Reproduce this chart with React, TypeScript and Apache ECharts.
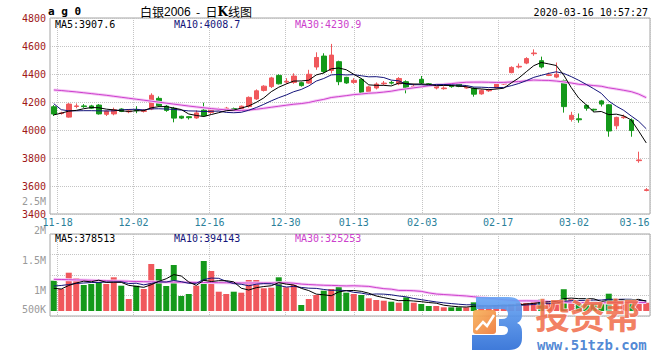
import React, { useEffect, useRef } from 'react';
import * as echarts from 'echarts';

// ---------- data ----------
const dates = [
  '11-15', '11-18', '11-19', '11-20', '11-21', '11-22', '11-25', '11-26', '11-27', '11-28', '11-29',
  '12-02', '12-03', '12-04', '12-05', '12-06', '12-09', '12-10', '12-11', '12-12', '12-13',
  '12-16', '12-17', '12-18', '12-19', '12-20', '12-23', '12-24', '12-25', '12-26', '12-27', '12-30', '12-31',
  '01-02', '01-03', '01-06', '01-07', '01-08', '01-09', '01-10', '01-13', '01-14', '01-15', '01-16', '01-17',
  '01-20', '01-21', '01-22', '01-23',
  '02-03', '02-04', '02-05', '02-06', '02-07', '02-10', '02-11', '02-12', '02-13', '02-14',
  '02-17', '02-18', '02-19', '02-20', '02-21', '02-24', '02-25', '02-26', '02-27', '02-28',
  '03-02', '03-03', '03-04', '03-05', '03-06', '03-09', '03-10', '03-11', '03-12', '03-13', '03-16',
];

const opens = [
  4166, 4118, 4092, 4168, 4172, 4172, 4178, 4112, 4115, 4150,
  4130, 4145, 4133, 4150, 4226, 4170, 4155, 4098, 4095, 4086,
  4142, 4125, 4145, 4150, 4152, 4138, 4168, 4222, 4283, 4310,
  4390, 4342, 4340, 4338, 4335, 4450, 4528, 4425, 4488, 4376,
  4340, 4362, 4275, 4300, 4330, 4340, 4330, 4345, 4305, 4362,
  4330, 4300, 4295, 4316, 4334, 4300, 4298, 4258, 4280, 4300,
  4328, 4410, 4450, 4478, 4545, 4495, 4390, 4378, 4352, 4076,
  4080, 4176, 4148, 4208, 4180, 4030, 4088, 4071, 3781, 3568,
];
const closes = [
  4114, 4122, 4185, 4172, 4167, 4156, 4115, 4135, 4145, 4133,
  4136, 4138, 4138, 4248, 4173, 4140, 4085, 4085, 4088, 4122,
  4102, 4155, 4152, 4156, 4148, 4170, 4233, 4280, 4313, 4372,
  4330, 4348, 4385, 4317, 4398, 4518, 4418, 4535, 4345, 4336,
  4355, 4268, 4308, 4328, 4335, 4335, 4368, 4292, 4312, 4335,
  4324, 4320, 4300, 4310, 4312, 4305, 4256, 4283, 4285, 4333,
  4335, 4447, 4455, 4510, 4550, 4450, 4395, 4398, 4167, 4105,
  4073, 4155, 4143, 4185, 3993, 4090, 4093, 3996, 3786, 3573,
];
const lows = [
  4100, 4110, 4088, 4155, 4158, 4150, 4110, 4100, 4105, 4128,
  4120, 4120, 4125, 4142, 4165, 4130, 4055, 4078, 4075, 4080,
  4095, 4115, 4135, 4140, 4140, 4130, 4160, 4215, 4275, 4300,
  4325, 4330, 4330, 4310, 4330, 4430, 4405, 4405, 4320, 4330,
  4330, 4250, 4265, 4290, 4320, 4325, 4320, 4262, 4295, 4328,
  4315, 4290, 4288, 4302, 4306, 4295, 4238, 4252, 4272, 4295,
  4322, 4405, 4440, 4470, 4530, 4440, 4385, 4370, 4124, 4060,
  4052, 4138, 4130, 4168, 3952, 4005, 4080, 3952, 3766, 3562,
];
const highs = [
  4178, 4130, 4192, 4190, 4185, 4180, 4185, 4140, 4160, 4155,
  4150, 4170, 4150, 4262, 4240, 4178, 4165, 4102, 4100, 4140,
  4195, 4162, 4160, 4165, 4160, 4175, 4240, 4290, 4320, 4380,
  4398, 4370, 4405, 4345, 4430, 4555, 4548, 4615, 4495, 4380,
  4370, 4370, 4315, 4340, 4350, 4350, 4378, 4355, 4330, 4386,
  4335, 4328, 4312, 4325, 4338, 4315, 4305, 4290, 4295, 4340,
  4350, 4455, 4475, 4520, 4576, 4524, 4410, 4482, 4360, 4130,
  4118, 4182, 4152, 4215, 4185, 4095, 4110, 4083, 3845, 3585,
];
const volumes = [
  1166000, 847000, 1474500, 1259000, 1001000, 1039500, 1166000, 1039500, 1297500, 974000,
  462000, 974000, 847000, 1809500, 1617000, 962500, 1771000, 577500, 654500, 974000,
  1925000, 1540000, 743000, 654500, 743000, 704500, 1193500, 1193500, 874000, 897000,
  1297500, 912500, 1028000, 231000, 462000, 616000, 781500, 847000, 962500, 704500,
  654500, 616000, 489000, 423500, 396500, 358000, 319500, 527500, 319500, 269500,
  192500, 192500, 142500, 142500, 142500, 142500, 333660, 192500, 154000, 231000,
  231000, 269500, 308000, 308000, 346500, 443500, 346500, 405000, 838500, 453500,
  330000, 350000, 372000, 331000, 665865, 381000, 402000, 384000, 408000, 317565,
];

// moving-average values before enough in-chart history exists
const ma5Lead = [4108, 4120, 4135, 4140];
const ma10Lead = [4188, 4145, 4137, 4137, 4138, 4138, 4137, 4136, 4137];
const ma30Lead = [
  4286, 4282, 4277, 4272, 4266, 4260, 4254, 4248, 4241, 4234,
  4227, 4220, 4213, 4206, 4199, 4192, 4185, 4178, 4171, 4165,
  4159, 4153, 4148, 4144, 4141, 4140, 4142, 4148, 4155,
];
const vma5Lead = [874000, 847000, 982000, 1078000];
const vma10Lead = [962500, 982000, 1020000, 1059000, 1078000, 1097000, 1097000, 1116500, 1116500];
const vma30Lead = [
  1220000, 1213000, 1205000, 1197000, 1190000, 1182000, 1174000, 1166000, 1159000, 1151000,
  1143000, 1136000, 1128000, 1124000, 1120000, 1116500, 1113000, 1109000, 1105000, 1101000,
  1097000, 1093000, 1090000, 1086000, 1082000, 1078000, 1078000, 1078000, 1078000,
];

const xTickDates = ['11-18', '12-02', '12-16', '12-30', '01-13', '02-03', '02-17', '03-02', '03-16'];
const priceMin = 3400;
const priceMax = 4800;
const priceStep = 200;
const volTickLabels = ['2.5M', '2M', '1.5M', '1M', '500K'];

const titleCode = 'a g 0';
const titleName = '白银';
const titleContract = '2006';
const titleKind = ['  -  日', 'K', '线图'];
const timestamp = '2020-03-16 10:57:27';
const watermarkName = '投资帮';
const watermarkUrl = 'www.51tzb.com';

// ---------- layout / style ----------
const RED = '#f0585c';
const GREEN = '#14991a';
const NAVY = '#14147a';
const MAGENTA = '#cc3fcc';
const HALO = '#f6ccf6';
const TEAL = '#2a7f9a';
const YRED = '#a01818';
const GRID_LINE = '#c4c4c4';
const MONO = '"DejaVu Sans Mono", monospace';
const volLabelY = [201.7, 230, 260.7, 290.7, 309.3];

const logoPath =
  'M4 0 H36 Q50 0 50 13 V18 Q50 24 45 26 Q50 28 50 35 V41 Q50 53 37 53 H0 V38 H30 Q36 38 36 33 Q36 29 30 29 H27 V22 H30 Q36 22 36 17 Q36 12 30 12 H4 Z';
echarts.graphic.registerShape('wmLogo', echarts.graphic.extendPath(logoPath, {}));

function movingAvg(vals: number[], n: number, lead: number[]) {
  return vals.map((_, i) => {
    if (i < n - 1) return lead[i];
    let s = 0;
    for (let k = i - n + 1; k <= i; k++) s += vals[k];
    return s / n;
  });
}

function buildOption() {
  const ma5 = movingAvg(closes, 5, ma5Lead);
  const ma10 = movingAvg(closes, 10, ma10Lead);
  const ma30 = movingAvg(closes, 30, ma30Lead);
  const vma5 = movingAvg(volumes, 5, vma5Lead);
  const vma10 = movingAvg(volumes, 10, vma10Lead);
  const vma30 = movingAvg(volumes, 30, vma30Lead);
  const last = dates.length - 1;
  const tickSet = new Set(xTickDates);
  const lastTick = xTickDates[xTickDates.length - 1];

  const ohlc = dates.map((_, i) => [opens[i], closes[i], lows[i], highs[i]]);
  const volData = volumes.map((v, i) => ({
    value: v,
    itemStyle: { color: closes[i] >= opens[i] ? RED : GREEN },
  }));

  const line = (data: number[], color: string, xi: number, yi: number, width = 1, z = 3) => ({
    type: 'line',
    data,
    xAxisIndex: xi,
    yAxisIndex: yi,
    symbol: 'none',
    showSymbol: false,
    silent: true,
    z,
    lineStyle: { color, width },
  });

  const txt = (x: number, y: number, text: string, fill: string, font: string, align = 'left', extra: any = {}, z = 10) => ({
    type: 'text',
    x,
    y,
    z,
    silent: true,
    style: {
      text,
      fill,
      font,
      align,
      textAlign: align,
      verticalAlign: 'middle',
      textVerticalAlign: 'middle',
      ...extra,
    },
  });

  const f10 = `10px ${MONO}`;

  const graphic: any[] = [
    {
      type: 'text',
      x: 140,
      y: 11.5,
      z: 10,
      silent: true,
      style: {
        text: `{c|${titleName}}{d|${titleContract}}{c|${titleKind[0]}}{k|${titleKind[1]}}{c|${titleKind[2]}}`,
        verticalAlign: 'middle',
        textVerticalAlign: 'middle',
        rich: {
          c: { fontSize: 12, lineHeight: 12, fontFamily: '"Noto Sans CJK SC"', color: '#000' },
          d: { fontSize: 12, lineHeight: 12, fontFamily: '"Liberation Sans Narrow", "Liberation Sans"', color: '#555' },
          k: { fontSize: 12, lineHeight: 12, fontWeight: 'bold', fontFamily: '"DejaVu Serif"', color: '#000' },
        },
      },
    },
    txt(648, 12.5, timestamp, '#000', f10, 'right'),
    txt(55, 24, `MA5:${ma5[last].toFixed(1)}`, '#000', f10),
    txt(174, 24, `MA10:${ma10[last].toFixed(1)}`, NAVY, f10),
    txt(295, 24, `MA30:${ma30[last].toFixed(1)}`, MAGENTA, f10),
    txt(55, 238.5, `MA5:${Math.round(vma5[last])}`, '#000', f10),
    txt(174, 238.5, `MA10:${Math.round(vma10[last])}`, NAVY, f10),
    txt(295, 238.5, `MA30:${Math.round(vma30[last])}`, MAGENTA, f10),
    ...volTickLabels.map((t, i) => txt(46, volLabelY[i], t, '#9a9a9a', f10, 'right')),
    // watermark
    {
      type: 'wmLogo',
      x: 472,
      y: 297,
      z: 20,
      silent: true,
      style: {
        fill: new echarts.graphic.LinearGradient(0, 0, 0, 1, [
          { offset: 0, color: '#6aa6f4' },
          { offset: 1, color: '#2f6fd6' },
        ]),
        opacity: 0.92,
      },
    },
    {
      type: 'rect',
      z: 20,
      silent: true,
      shape: { x: 473, y: 310, width: 23, height: 24, r: 3 },
      style: {
        fill: new echarts.graphic.LinearGradient(0, 0, 1, 1, [
          { offset: 0, color: '#f7b35c' },
          { offset: 1, color: '#ef7a3a' },
        ]),
        opacity: 0.92,
      },
    },
    {
      type: 'polyline',
      z: 21,
      silent: true,
      shape: { points: [[476, 330], [483, 322], [487, 326], [494, 315]] },
      style: { stroke: '#fff', lineWidth: 2.5, fill: 'none' },
    },
    txt(535, 313, watermarkName, '#f06a48', `bold 35px "Noto Sans CJK SC"`, 'left', { opacity: 0.85, stroke: '#fff', lineWidth: 1, lineHeight: 34 }, 20),
    txt(537, 345, watermarkUrl, '#3c7ad0', `bold 14px ${MONO}`, 'left', { opacity: 0.9, lineHeight: 13 }, 20),
  ];

  return {
    animation: false,
    backgroundColor: '#fff',
    title: {
      text: titleCode,
      left: 48,
      top: 4,
      padding: 0,
      textStyle: { fontSize: 11, lineHeight: 14, fontWeight: 'bold', fontFamily: 'DejaVu Sans Mono', color: '#000' },
    },
    grid: [
      { left: 50, top: 18, width: 600, height: 196, show: true, borderColor: '#a4a4a4', borderWidth: 1 },
      { left: 50, top: 234, width: 600, height: 82, show: true, borderColor: '#a4a4a4', borderWidth: 1 },
    ],
    xAxis: [
      { type: 'category', gridIndex: 0, data: dates, boundaryGap: true, show: false, position: 'top' },
      {
        type: 'category',
        gridIndex: 0,
        data: dates,
        boundaryGap: false,
        position: 'bottom',
        axisLine: { show: false },
        axisTick: { show: false },
        axisLabel: {
          interval: (_i: number, v: string) => tickSet.has(v),
          color: TEAL,
          fontSize: 10,
          fontFamily: MONO,
          margin: 3,
          formatter: (v: string) => (v === lastTick ? `{r|${v}}` : v),
          rich: { r: { color: TEAL, fontSize: 10, fontFamily: MONO, padding: [0, 31, 0, 0] } },
        },
        splitLine: {
          show: true,
          interval: (_i: number, v: string) => tickSet.has(v),
          lineStyle: { color: GRID_LINE, type: 'dotted', width: 1 },
        },
      },
      { type: 'category', gridIndex: 1, data: dates, boundaryGap: true, show: false, position: 'top' },
      {
        type: 'category',
        gridIndex: 1,
        data: dates,
        boundaryGap: false,
        position: 'bottom',
        axisLine: { show: false },
        axisTick: { show: false },
        axisLabel: { show: false },
        splitLine: {
          show: true,
          interval: (_i: number, v: string) => tickSet.has(v),
          lineStyle: { color: GRID_LINE, type: 'dotted', width: 1 },
        },
      },
    ],
    yAxis: [
      {
        type: 'value',
        gridIndex: 0,
        min: priceMin,
        max: priceMax,
        interval: priceStep,
        position: 'left',
        axisLine: { show: false },
        axisTick: { show: false },
        axisLabel: { color: YRED, fontSize: 10, fontFamily: MONO, margin: 4, formatter: (v: number) => String(v) },
        splitLine: { show: true, lineStyle: { color: GRID_LINE, type: 'dotted', width: 1 } },
      },
      { type: 'value', gridIndex: 1, min: -192500, max: 2964500, show: false, position: 'left' },
      {
        type: 'value',
        gridIndex: 1,
        min: 0,
        max: 4,
        interval: 1,
        position: 'right',
        axisLine: { show: false },
        axisTick: { show: false },
        axisLabel: { show: false },
        splitLine: { show: true, lineStyle: { color: GRID_LINE, type: 'dotted', width: 1 } },
      },
    ],
    series: [
      {
        type: 'candlestick',
        xAxisIndex: 0,
        yAxisIndex: 0,
        barWidth: 5,
        data: ohlc,
        silent: true,
        z: 2,
        itemStyle: { color: RED, color0: GREEN, borderColor: RED, borderColor0: GREEN, borderWidth: 1 },
      },
      line(ma30, HALO, 0, 0, 3, 3),
      line(ma30, MAGENTA, 0, 0, 1, 4),
      line(ma10, NAVY, 0, 0, 1, 4),
      line(ma5, '#000', 0, 0, 1, 4),
      {
        type: 'bar',
        xAxisIndex: 2,
        yAxisIndex: 1,
        barWidth: 6,
        data: volData,
        silent: true,
        z: 2,
      },
      line(vma30, HALO, 2, 1, 3, 3),
      line(vma30, MAGENTA, 2, 1, 1, 4),
      line(vma10, NAVY, 2, 1, 1, 4),
      line(vma5, '#000', 2, 1, 1, 4),
    ],
    graphic,
  };
}

export default function App() {
  const ref = useRef<HTMLDivElement>(null);
  useEffect(() => {
    if (!ref.current) return;
    const chart = echarts.init(ref.current, null, { renderer: 'svg' });
    chart.setOption(buildOption() as any);
    return () => chart.dispose();
  }, []);
  return (
    <div
      ref={ref}
      style={{ position: 'fixed', left: 0, top: 0, width: 660, height: 360, background: '#fff' }}
    />
  );
}
